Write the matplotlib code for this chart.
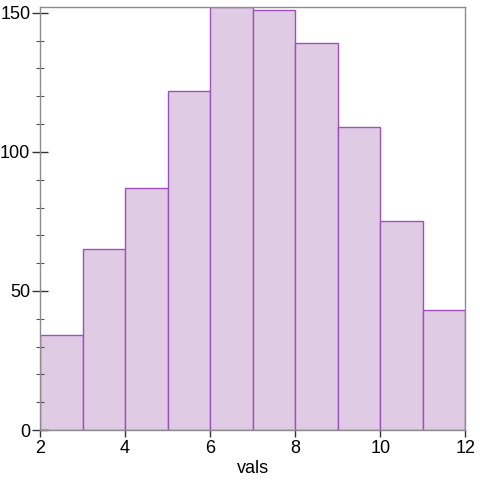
import numpy as np
import matplotlib.pyplot as plt
from matplotlib.ticker import MultipleLocator

# histogram of vals, bins of width 1 from 2 to 12
bin_edges = [2, 3, 4, 5, 6, 7, 8, 9, 10, 11, 12]
counts = [34, 65, 87, 122, 152, 151, 139, 109, 75, 43]

plt.rcParams["font.family"] = ["Liberation Sans", "DejaVu Sans"]

fig = plt.figure(figsize=(4.8, 4.8), dpi=100)
ax = fig.add_axes([0.0833, 0.104, 0.886, 0.881])

edges = np.array(bin_edges, dtype=float)
ax.bar(edges[:-1], counts, width=np.diff(edges), align="edge",
       color="#dfcce4", edgecolor="#a34fbb", linewidth=1.0)

ax.set_xlim(2, 12)
ax.set_ylim(0, max(counts))
ax.set_xticks([2, 4, 6, 8, 10, 12])
ax.set_yticks([0, 50, 100, 150])
ax.yaxis.set_minor_locator(MultipleLocator(10))
ax.set_xlabel("vals", fontsize=13, labelpad=2)

for s in ax.spines.values():
    s.set_color("#8c8c8c")
    s.set_linewidth(1.0)

ax.tick_params(axis="y", which="major", direction="inout", length=12, width=1,
               color="#333333", labelsize=13, pad=1)
ax.tick_params(axis="y", which="minor", direction="inout", length=6, width=0.8,
               color="#555555")
ax.tick_params(axis="x", which="major", direction="out", length=5, width=1,
               color="#333333", labelsize=13, pad=2)

fig.savefig("out.png", dpi=100)
